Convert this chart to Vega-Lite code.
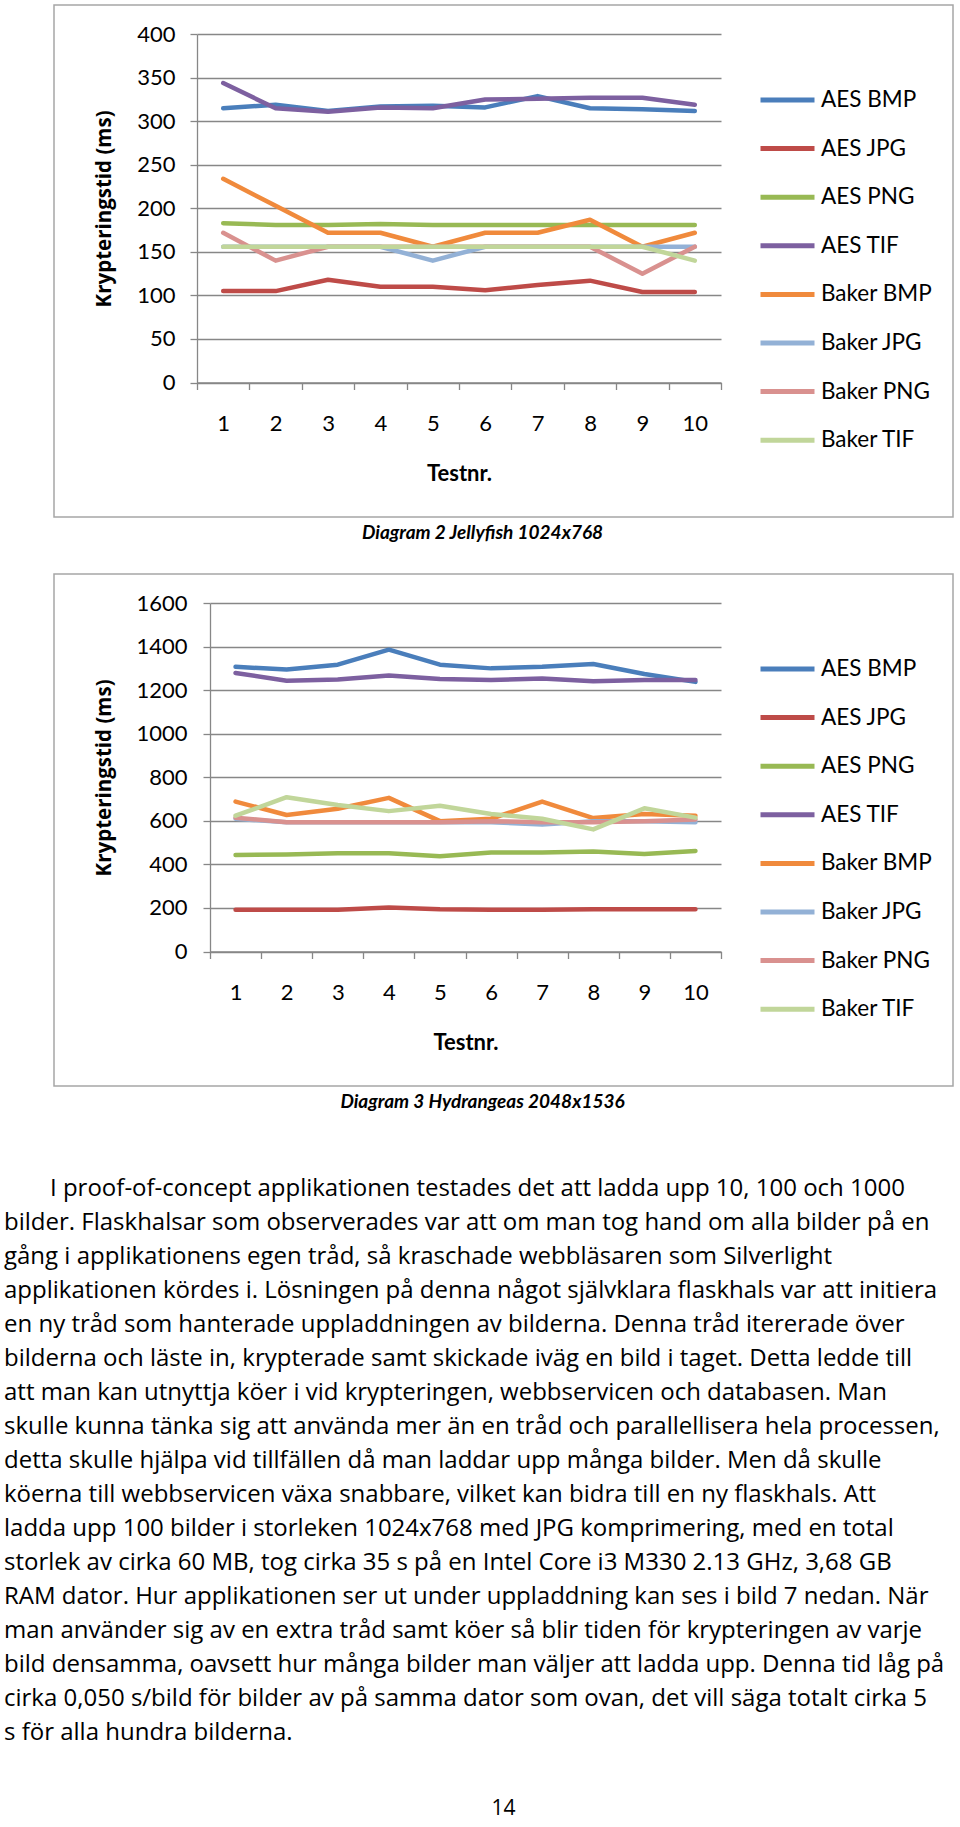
{
  "$schema": "https://vega.github.io/schema/vega-lite/v6.json",
  "padding": {"left": 4, "top": 4, "right": 0, "bottom": 3},
  "bounds": "flush",
  "spacing": 57,
  "background": "white",
  "resolve": {
    "scale": {"x": "independent", "y": "independent", "color": "independent"},
    "axis": {"x": "independent", "y": "independent"},
    "legend": {"color": "independent"}
  },
  "config": {
    "font": "Lato",
    "view": {"stroke": "#a6a6a6", "strokeWidth": 1.5},
    "axis": {
      "labelFont": "Lato", "labelColor": "#000000", "labelFontSize": 22,
      "domainColor": "#878787", "tickColor": "#878787", "gridColor": "#878787",
      "domainWidth": 1.3, "tickWidth": 1.3, "gridWidth": 1.3, "titleColor": "#000000"
    },
    "legend": {
      "orient": "none", "legendX": 704, "legendY": 85, "padding": 0,
      "symbolType": "stroke", "symbolSize": 2916, "symbolStrokeWidth": 5,
      "clipHeight": 20, "rowPadding": 25.6, "labelFont": "Lato", "labelFontSize": 22.5,
      "labelColor": "#000000", "labelOffset": 4, "labelBaseline": "middle"
    }
  },
  "datasets": {
    "jelly": [
      {"series": "AES BMP", "test": 1, "ms": 315}, {"series": "AES BMP", "test": 2, "ms": 319}, {"series": "AES BMP", "test": 3, "ms": 312}, {"series": "AES BMP", "test": 4, "ms": 317}, {"series": "AES BMP", "test": 5, "ms": 318}, {"series": "AES BMP", "test": 6, "ms": 316}, {"series": "AES BMP", "test": 7, "ms": 329}, {"series": "AES BMP", "test": 8, "ms": 315}, {"series": "AES BMP", "test": 9, "ms": 314}, {"series": "AES BMP", "test": 10, "ms": 312},
      {"series": "AES JPG", "test": 1, "ms": 105}, {"series": "AES JPG", "test": 2, "ms": 105}, {"series": "AES JPG", "test": 3, "ms": 118}, {"series": "AES JPG", "test": 4, "ms": 110}, {"series": "AES JPG", "test": 5, "ms": 110}, {"series": "AES JPG", "test": 6, "ms": 106}, {"series": "AES JPG", "test": 7, "ms": 112}, {"series": "AES JPG", "test": 8, "ms": 117}, {"series": "AES JPG", "test": 9, "ms": 104}, {"series": "AES JPG", "test": 10, "ms": 104},
      {"series": "AES PNG", "test": 1, "ms": 183}, {"series": "AES PNG", "test": 2, "ms": 181}, {"series": "AES PNG", "test": 3, "ms": 181}, {"series": "AES PNG", "test": 4, "ms": 182}, {"series": "AES PNG", "test": 5, "ms": 181}, {"series": "AES PNG", "test": 6, "ms": 181}, {"series": "AES PNG", "test": 7, "ms": 181}, {"series": "AES PNG", "test": 8, "ms": 181}, {"series": "AES PNG", "test": 9, "ms": 181}, {"series": "AES PNG", "test": 10, "ms": 181},
      {"series": "AES TIF", "test": 1, "ms": 344}, {"series": "AES TIF", "test": 2, "ms": 315}, {"series": "AES TIF", "test": 3, "ms": 311}, {"series": "AES TIF", "test": 4, "ms": 316}, {"series": "AES TIF", "test": 5, "ms": 315}, {"series": "AES TIF", "test": 6, "ms": 325}, {"series": "AES TIF", "test": 7, "ms": 326}, {"series": "AES TIF", "test": 8, "ms": 327}, {"series": "AES TIF", "test": 9, "ms": 327}, {"series": "AES TIF", "test": 10, "ms": 319},
      {"series": "Baker BMP", "test": 1, "ms": 234}, {"series": "Baker BMP", "test": 2, "ms": 203}, {"series": "Baker BMP", "test": 3, "ms": 172}, {"series": "Baker BMP", "test": 4, "ms": 172}, {"series": "Baker BMP", "test": 5, "ms": 156}, {"series": "Baker BMP", "test": 6, "ms": 172}, {"series": "Baker BMP", "test": 7, "ms": 172}, {"series": "Baker BMP", "test": 8, "ms": 187}, {"series": "Baker BMP", "test": 9, "ms": 156}, {"series": "Baker BMP", "test": 10, "ms": 172},
      {"series": "Baker JPG", "test": 1, "ms": 156}, {"series": "Baker JPG", "test": 2, "ms": 156}, {"series": "Baker JPG", "test": 3, "ms": 156}, {"series": "Baker JPG", "test": 4, "ms": 156}, {"series": "Baker JPG", "test": 5, "ms": 140}, {"series": "Baker JPG", "test": 6, "ms": 156}, {"series": "Baker JPG", "test": 7, "ms": 156}, {"series": "Baker JPG", "test": 8, "ms": 156}, {"series": "Baker JPG", "test": 9, "ms": 156}, {"series": "Baker JPG", "test": 10, "ms": 156},
      {"series": "Baker PNG", "test": 1, "ms": 172}, {"series": "Baker PNG", "test": 2, "ms": 140}, {"series": "Baker PNG", "test": 3, "ms": 156}, {"series": "Baker PNG", "test": 4, "ms": 156}, {"series": "Baker PNG", "test": 5, "ms": 156}, {"series": "Baker PNG", "test": 6, "ms": 156}, {"series": "Baker PNG", "test": 7, "ms": 156}, {"series": "Baker PNG", "test": 8, "ms": 156}, {"series": "Baker PNG", "test": 9, "ms": 125}, {"series": "Baker PNG", "test": 10, "ms": 156},
      {"series": "Baker TIF", "test": 1, "ms": 156}, {"series": "Baker TIF", "test": 2, "ms": 156}, {"series": "Baker TIF", "test": 3, "ms": 156}, {"series": "Baker TIF", "test": 4, "ms": 156}, {"series": "Baker TIF", "test": 5, "ms": 156}, {"series": "Baker TIF", "test": 6, "ms": 156}, {"series": "Baker TIF", "test": 7, "ms": 156}, {"series": "Baker TIF", "test": 8, "ms": 156}, {"series": "Baker TIF", "test": 9, "ms": 156}, {"series": "Baker TIF", "test": 10, "ms": 140}
    ],
    "hydra": [
      {"series": "AES BMP", "test": 1, "ms": 1308}, {"series": "AES BMP", "test": 2, "ms": 1296}, {"series": "AES BMP", "test": 3, "ms": 1318}, {"series": "AES BMP", "test": 4, "ms": 1387}, {"series": "AES BMP", "test": 5, "ms": 1318}, {"series": "AES BMP", "test": 6, "ms": 1301}, {"series": "AES BMP", "test": 7, "ms": 1308}, {"series": "AES BMP", "test": 8, "ms": 1321}, {"series": "AES BMP", "test": 9, "ms": 1275}, {"series": "AES BMP", "test": 10, "ms": 1239},
      {"series": "AES JPG", "test": 1, "ms": 192}, {"series": "AES JPG", "test": 2, "ms": 192}, {"series": "AES JPG", "test": 3, "ms": 192}, {"series": "AES JPG", "test": 4, "ms": 202}, {"series": "AES JPG", "test": 5, "ms": 194}, {"series": "AES JPG", "test": 6, "ms": 192}, {"series": "AES JPG", "test": 7, "ms": 192}, {"series": "AES JPG", "test": 8, "ms": 194}, {"series": "AES JPG", "test": 9, "ms": 194}, {"series": "AES JPG", "test": 10, "ms": 194},
      {"series": "AES PNG", "test": 1, "ms": 443}, {"series": "AES PNG", "test": 2, "ms": 446}, {"series": "AES PNG", "test": 3, "ms": 451}, {"series": "AES PNG", "test": 4, "ms": 451}, {"series": "AES PNG", "test": 5, "ms": 438}, {"series": "AES PNG", "test": 6, "ms": 455}, {"series": "AES PNG", "test": 7, "ms": 455}, {"series": "AES PNG", "test": 8, "ms": 460}, {"series": "AES PNG", "test": 9, "ms": 448}, {"series": "AES PNG", "test": 10, "ms": 462},
      {"series": "AES TIF", "test": 1, "ms": 1280}, {"series": "AES TIF", "test": 2, "ms": 1244}, {"series": "AES TIF", "test": 3, "ms": 1250}, {"series": "AES TIF", "test": 4, "ms": 1268}, {"series": "AES TIF", "test": 5, "ms": 1252}, {"series": "AES TIF", "test": 6, "ms": 1247}, {"series": "AES TIF", "test": 7, "ms": 1255}, {"series": "AES TIF", "test": 8, "ms": 1242}, {"series": "AES TIF", "test": 9, "ms": 1247}, {"series": "AES TIF", "test": 10, "ms": 1247},
      {"series": "Baker BMP", "test": 1, "ms": 689}, {"series": "Baker BMP", "test": 2, "ms": 627}, {"series": "Baker BMP", "test": 3, "ms": 656}, {"series": "Baker BMP", "test": 4, "ms": 706}, {"series": "Baker BMP", "test": 5, "ms": 599}, {"series": "Baker BMP", "test": 6, "ms": 610}, {"series": "Baker BMP", "test": 7, "ms": 689}, {"series": "Baker BMP", "test": 8, "ms": 613}, {"series": "Baker BMP", "test": 9, "ms": 632}, {"series": "Baker BMP", "test": 10, "ms": 624},
      {"series": "Baker JPG", "test": 1, "ms": 610}, {"series": "Baker JPG", "test": 2, "ms": 594}, {"series": "Baker JPG", "test": 3, "ms": 594}, {"series": "Baker JPG", "test": 4, "ms": 594}, {"series": "Baker JPG", "test": 5, "ms": 594}, {"series": "Baker JPG", "test": 6, "ms": 594}, {"series": "Baker JPG", "test": 7, "ms": 583}, {"series": "Baker JPG", "test": 8, "ms": 599}, {"series": "Baker JPG", "test": 9, "ms": 599}, {"series": "Baker JPG", "test": 10, "ms": 594},
      {"series": "Baker PNG", "test": 1, "ms": 615}, {"series": "Baker PNG", "test": 2, "ms": 594}, {"series": "Baker PNG", "test": 3, "ms": 594}, {"series": "Baker PNG", "test": 4, "ms": 594}, {"series": "Baker PNG", "test": 5, "ms": 594}, {"series": "Baker PNG", "test": 6, "ms": 599}, {"series": "Baker PNG", "test": 7, "ms": 594}, {"series": "Baker PNG", "test": 8, "ms": 594}, {"series": "Baker PNG", "test": 9, "ms": 599}, {"series": "Baker PNG", "test": 10, "ms": 607},
      {"series": "Baker TIF", "test": 1, "ms": 624}, {"series": "Baker TIF", "test": 2, "ms": 709}, {"series": "Baker TIF", "test": 3, "ms": 673}, {"series": "Baker TIF", "test": 4, "ms": 645}, {"series": "Baker TIF", "test": 5, "ms": 670}, {"series": "Baker TIF", "test": 6, "ms": 632}, {"series": "Baker TIF", "test": 7, "ms": 610}, {"series": "Baker TIF", "test": 8, "ms": 561}, {"series": "Baker TIF", "test": 9, "ms": 658}, {"series": "Baker TIF", "test": 10, "ms": 615}
    ],
    "para": [
      {"line": 1, "indent": 1, "text": "I proof-of-concept applikationen testades det att ladda upp 10, 100 och 1000"},
      {"line": 2, "indent": 0, "text": "bilder. Flaskhalsar som observerades var att om man tog hand om alla bilder på en"},
      {"line": 3, "indent": 0, "text": "gång i applikationens egen tråd, så kraschade webbläsaren som Silverlight"},
      {"line": 4, "indent": 0, "text": "applikationen kördes i. Lösningen på denna något självklara flaskhals var att initiera"},
      {"line": 5, "indent": 0, "text": "en ny tråd som hanterade uppladdningen av bilderna. Denna tråd itererade över"},
      {"line": 6, "indent": 0, "text": "bilderna och läste in, krypterade samt skickade iväg en bild i taget. Detta ledde till"},
      {"line": 7, "indent": 0, "text": "att man kan utnyttja köer i vid krypteringen, webbservicen och databasen.  Man"},
      {"line": 8, "indent": 0, "text": "skulle kunna tänka sig att använda mer än en tråd och parallellisera hela processen,"},
      {"line": 9, "indent": 0, "text": "detta skulle hjälpa vid tillfällen då man laddar upp många bilder. Men då skulle"},
      {"line": 10, "indent": 0, "text": "köerna till webbservicen växa snabbare, vilket kan bidra till en ny flaskhals. Att"},
      {"line": 11, "indent": 0, "text": "ladda upp 100 bilder i storleken 1024x768 med JPG komprimering, med en total"},
      {"line": 12, "indent": 0, "text": "storlek av cirka 60 MB, tog cirka 35 s på en Intel Core i3 M330 2.13 GHz, 3,68 GB"},
      {"line": 13, "indent": 0, "text": "RAM dator. Hur applikationen ser ut under uppladdning kan ses i bild 7 nedan. När"},
      {"line": 14, "indent": 0, "text": "man använder sig av en extra tråd samt köer så blir tiden för krypteringen av varje"},
      {"line": 15, "indent": 0, "text": "bild densamma, oavsett hur många bilder man väljer att ladda upp. Denna tid låg på"},
      {"line": 16, "indent": 0, "text": "cirka 0,050 s/bild för bilder av på samma dator som ovan, det vill säga totalt cirka 5"},
      {"line": 17, "indent": 0, "text": "s för alla hundra bilderna."}
    ]
  },
  "vconcat": [
    {
      "width": 899, "height": 512,
      "data": {"name": "jelly"},
      "title": {"text": "Diagram 2 Jellyfish 1024x768", "orient": "bottom", "anchor": "middle", "frame": "group", "offset": 7, "dx": -21, "font": "Lato", "fontSize": 19, "fontStyle": "italic", "fontWeight": "bold", "color": "#000000"},
      "mark": {"type": "line", "strokeWidth": 4.5, "strokeCap": "round", "strokeJoin": "round"},
      "encoding": {
        "x": {"field": "test", "type": "ordinal", "bandPosition": 0.5,
          "scale": {"type": "band", "range": [143, 667], "paddingInner": 0, "paddingOuter": 0},
          "axis": {"title": "Testnr.", "offset": -134.5, "tickBand": "extent", "tickSize": 7, "labelAngle": 0, "labelBaseline": "middle", "labelPadding": 34, "grid": false, "titleY": 91, "titleBaseline": "middle", "titleFont": "Lato", "titleFontWeight": "bold", "titleFontSize": 22}},
        "y": {"field": "ms", "type": "quantitative",
          "scale": {"domain": [0, 400], "range": [377.5, 29.3], "nice": false, "zero": true},
          "axis": {"title": "Krypteringstid (ms)", "values": [0, 50, 100, 150, 200, 250, 300, 350, 400], "format": "d", "offset": -143, "tickSize": 7, "labelPadding": 15, "grid": true, "titleX": -93, "titleBaseline": "middle", "titleFont": "Open Sans", "titleFontWeight": "bold", "titleFontSize": 20.5}},
        "color": {"field": "series", "type": "nominal",
          "scale": {"domain": ["AES BMP", "AES JPG", "AES PNG", "AES TIF", "Baker BMP", "Baker JPG", "Baker PNG", "Baker TIF"],
                    "range": ["#4A7EBB", "#BE4B48", "#98B954", "#7D60A0", "#F08A3C", "#93B1D6", "#D9918F", "#C1D69A"]},
          "legend": {"title": null}}
      }
    },
    {
      "width": 899, "height": 512,
      "data": {"name": "hydra"},
      "title": {"text": "Diagram 3 Hydrangeas 2048x1536", "orient": "bottom", "anchor": "middle", "frame": "group", "offset": 7, "dx": -21, "font": "Lato", "fontSize": 19, "fontStyle": "italic", "fontWeight": "bold", "color": "#000000"},
      "mark": {"type": "line", "strokeWidth": 4.5, "strokeCap": "round", "strokeJoin": "round"},
      "encoding": {
        "x": {"field": "test", "type": "ordinal", "bandPosition": 0.5,
          "scale": {"type": "band", "range": [156, 667], "paddingInner": 0, "paddingOuter": 0},
          "axis": {"title": "Testnr.", "offset": -134.5, "tickBand": "extent", "tickSize": 7, "labelAngle": 0, "labelBaseline": "middle", "labelPadding": 34, "grid": false, "titleY": 91, "titleBaseline": "middle", "titleFont": "Lato", "titleFontWeight": "bold", "titleFontSize": 22}},
        "y": {"field": "ms", "type": "quantitative",
          "scale": {"domain": [0, 1600], "range": [377.5, 29.3], "nice": false, "zero": true},
          "axis": {"title": "Krypteringstid (ms)", "values": [0, 200, 400, 600, 800, 1000, 1200, 1400, 1600], "format": "d", "offset": -156, "tickSize": 7, "labelPadding": 16, "grid": true, "titleX": -106, "titleBaseline": "middle", "titleFont": "Open Sans", "titleFontWeight": "bold", "titleFontSize": 20.5}},
        "color": {"field": "series", "type": "nominal",
          "scale": {"domain": ["AES BMP", "AES JPG", "AES PNG", "AES TIF", "Baker BMP", "Baker JPG", "Baker PNG", "Baker TIF"],
                    "range": ["#4A7EBB", "#BE4B48", "#98B954", "#7D60A0", "#F08A3C", "#93B1D6", "#D9918F", "#C1D69A"]},
          "legend": {"title": null}}
      }
    },
    {
      "width": 899, "height": 600,
      "view": {"stroke": null},
      "data": {"name": "para"},
      "title": {"text": "14", "orient": "bottom", "anchor": "middle", "frame": "group", "offset": 53, "font": "Open Sans", "fontSize": 21, "fontWeight": "normal", "color": "#000000"},
      "mark": {"type": "text", "align": "left", "baseline": "middle", "font": "Open Sans", "fontSize": 24, "color": "#000000"},
      "encoding": {
        "x": {"field": "indent", "type": "quantitative", "scale": {"domain": [0, 1], "range": [-50, -4], "zero": false, "nice": false}, "axis": null},
        "y": {"field": "line", "type": "quantitative", "scale": {"domain": [1, 17], "range": [46, 590], "zero": false, "nice": false}, "axis": null},
        "text": {"field": "text"}
      }
    }
  ]
}
